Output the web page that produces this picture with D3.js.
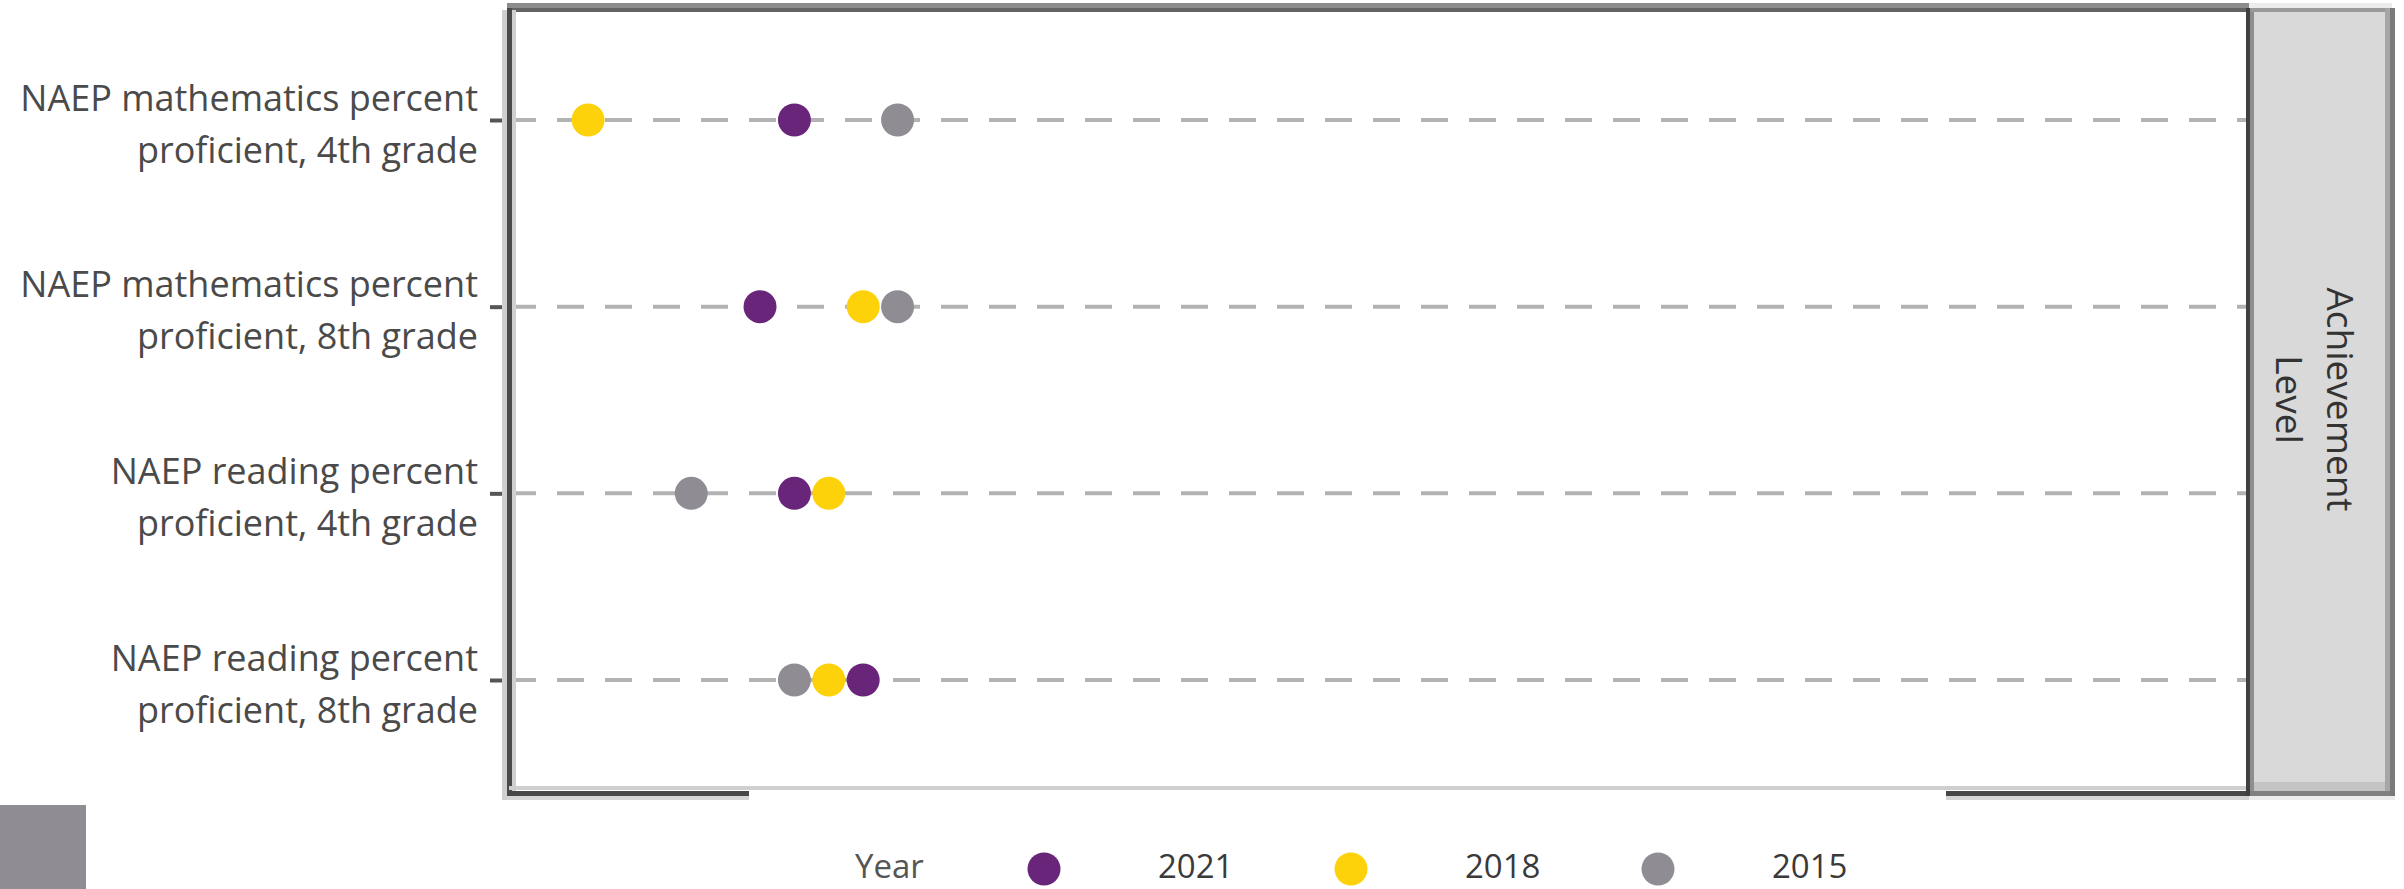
<!DOCTYPE html>
<html>
<head>
<meta charset="utf-8">
<script src="https://cdn.jsdelivr.net/npm/d3@7"></script>
<style>
  html, body { margin: 0; padding: 0; background: #ffffff; }
  svg { display: block; }
  text { font-family: "Open Sans", "Noto Sans", sans-serif; }
</style>
</head>
<body>
<svg id="chart" width="2404" height="889"></svg>
<script>
// ---- data ----
const categories = [
  "NAEP mathematics percent proficient, 4th grade",
  "NAEP mathematics percent proficient, 8th grade",
  "NAEP reading percent proficient, 4th grade",
  "NAEP reading percent proficient, 8th grade"
];
const categoryLines = [
  ["NAEP mathematics percent", "proficient, 4th grade"],
  ["NAEP mathematics percent", "proficient, 8th grade"],
  ["NAEP reading percent", "proficient, 4th grade"],
  ["NAEP reading percent", "proficient, 8th grade"]
];
const years = ["2021", "2018", "2015"];
const yearColors = ["#68257a", "#fed20b", "#8f8c94"];
const values2021 = [37, 36, 37, 39];
const values2018 = [31, 39, 38, 38];
const values2015 = [40, 40, 34, 37];
const seriesValues = { "2021": values2021, "2018": values2018, "2015": values2015 };
const stripLabel = ["Achievement", "Level"];
const legendTitle = "Year";

// ---- layout ----
const svg = d3.select("#chart");
const panel = { left: 509, right: 2249, top: 10, bottom: 789 };
const strip = { left: 2249, right: 2392 };

const x = d3.scaleLinear().domain([28.7, 79.3]).range([panel.left, panel.right]);
const y = d3.scalePoint().domain(categories).range([120, 680]);

// panel background
svg.append("rect").attr("x", panel.left).attr("y", panel.top)
  .attr("width", panel.right - panel.left).attr("height", panel.bottom - panel.top)
  .attr("fill", "#ffffff");

// dashed gridlines per category
svg.append("g").selectAll("line").data(categories).join("line")
  .attr("x1", panel.left).attr("x2", panel.right)
  .attr("y1", d => y(d)).attr("y2", d => y(d))
  .attr("stroke", "#b3b3b3").attr("stroke-width", 4)
  .attr("stroke-dasharray", "27,21");

// y axis (ticks + labels)
const yAxis = d3.axisLeft(y).tickSize(19).tickPadding(12).tickFormat("");
const gy = svg.append("g").attr("transform", `translate(${panel.left},0)`).call(yAxis);
gy.select(".domain").remove();
gy.selectAll(".tick line").attr("stroke", "#555555").attr("stroke-width", 4);
gy.selectAll(".tick").each(function(d, i) {
  const t = d3.select(this).append("text")
    .attr("x", -31).attr("text-anchor", "end")
    .attr("fill", "#4a4a4a").attr("font-size", 36);
  categoryLines[i].forEach((ln, k) => {
    t.append("tspan").attr("x", -31).attr("y", k === 0 ? -10 : 42).text(ln);
  });
});

// points
years.slice().reverse().forEach(yr => {
  const ci = years.indexOf(yr);
  svg.append("g").selectAll("circle").data(seriesValues[yr]).join("circle")
    .attr("cx", d => x(d)).attr("cy", (d, i) => y(categories[i]))
    .attr("r", 16.5).attr("fill", yearColors[ci]);
});

// panel border (top, left, bottom)
svg.append("rect").attr("x", panel.left - 2).attr("y", 3).attr("width", panel.right - panel.left + 2).attr("height", 5).attr("fill", "#8c8c8c");
svg.append("rect").attr("x", panel.left - 2).attr("y", 8).attr("width", panel.right - panel.left + 2).attr("height", 4).attr("fill", "#636363");
svg.append("rect").attr("x", 502).attr("y", 10).attr("width", 14).attr("height", 790).attr("fill", "#cfcfcf");
svg.append("rect").attr("x", 507).attr("y", 8).attr("width", 5).attr("height", 788).attr("fill", "#4a4a4a");
svg.append("rect").attr("x", panel.left).attr("y", 786).attr("width", panel.right - panel.left).attr("height", 4).attr("fill", "#cfcfcf");
// partial bottom axis line
[[507, 749], [1946, 2249]].forEach(([a, b]) => {
  svg.append("rect").attr("x", a).attr("y", 796).attr("width", b - a).attr("height", 4).attr("fill", "#d4d4d4");
  svg.append("rect").attr("x", a).attr("y", 791).attr("width", b - a).attr("height", 5).attr("fill", "#474747");
});

// strip on the right
svg.append("rect").attr("x", strip.left).attr("y", 3).attr("width", strip.right - strip.left).attr("height", 5).attr("fill", "#ececec");
svg.append("rect").attr("x", strip.left).attr("y", 8).attr("width", strip.right - strip.left).attr("height", 4).attr("fill", "#9a9a9a");
svg.append("rect").attr("x", strip.left).attr("y", 12).attr("width", strip.right - strip.left).attr("height", 779).attr("fill", "#d9d9d9");
svg.append("rect").attr("x", strip.left).attr("y", 782).attr("width", strip.right - strip.left).attr("height", 9).attr("fill", "#c4c4c4");
svg.append("rect").attr("x", strip.left).attr("y", 791).attr("width", strip.right - strip.left + 3).attr("height", 5).attr("fill", "#808080");
svg.append("rect").attr("x", strip.left).attr("y", 796).attr("width", strip.right - strip.left + 3).attr("height", 4).attr("fill", "#ebebeb");
svg.append("rect").attr("x", 2246).attr("y", 8).attr("width", 4).attr("height", 788).attr("fill", "#404040");
svg.append("rect").attr("x", 2250).attr("y", 12).attr("width", 4).attr("height", 779).attr("fill", "#8e8e8e");
svg.append("rect").attr("x", 2385).attr("y", 8).attr("width", 5).attr("height", 783).attr("fill", "#a6a6a6");
svg.append("rect").attr("x", 2390).attr("y", 8).attr("width", 5).attr("height", 788).attr("fill", "#7a7a7a");

const stripText = svg.append("text")
  .attr("transform", `translate(2327, ${(panel.top + panel.bottom) / 2}) rotate(90)`)
  .attr("text-anchor", "middle").attr("fill", "#333333").attr("font-size", 37);
stripLabel.forEach((ln, k) => {
  stripText.append("tspan").attr("x", 0).attr("y", k * 51).text(ln);
});

// legend
const legend = svg.append("g");
legend.append("text").attr("x", 855).attr("y", 878).attr("fill", "#555555").attr("font-size", 33).text(legendTitle);
const legendX = d3.scalePoint().domain(years).range([1044, 1658]);
years.forEach((yr, i) => {
  legend.append("circle").attr("cx", legendX(yr)).attr("cy", 869).attr("r", 16.5).attr("fill", yearColors[i]);
  legend.append("text").attr("x", legendX(yr) + 114).attr("y", 878).attr("fill", "#3a3a3a").attr("font-size", 33).text(yr);
});

// grey block bottom-left
svg.append("rect").attr("x", 0).attr("y", 805).attr("width", 86).attr("height", 84).attr("fill", "#8f8c93");
</script>
</body>
</html>
